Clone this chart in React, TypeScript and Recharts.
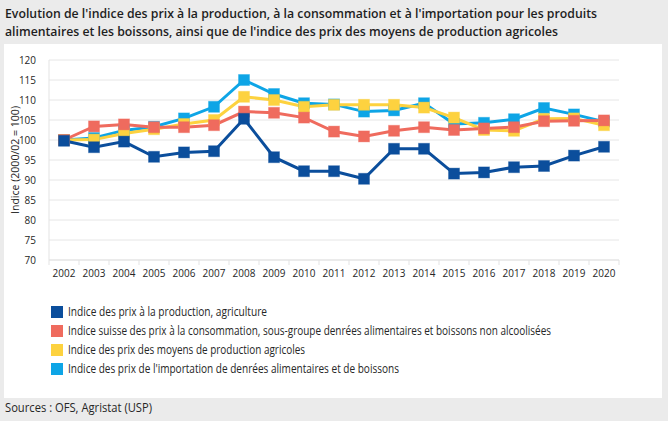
import React from "react";
import { LineChart, Line, XAxis, YAxis, CartesianGrid } from "recharts";

const years = ["2002","2003","2004","2005","2006","2007","2008","2009","2010","2011","2012","2013","2014","2015","2016","2017","2018","2019","2020"];
const production = [99.8,98.2,99.6,95.8,96.9,97.2,105.3,95.7,92.2,92.2,90.3,97.8,97.8,91.6,91.9,93.2,93.5,96.1,98.3];
const consommation = [100,103.4,103.9,103.2,103.2,103.7,107.1,106.8,105.6,102.1,100.9,102.3,103.2,102.5,102.9,103.2,104.7,104.8,104.9];
const moyens = [100,100.1,101.6,102.7,104.0,105.0,110.8,110.0,108.3,108.8,108.8,108.8,108.1,105.6,102.5,102.3,105.3,105.4,103.7];
const importation = [100,100.5,102.4,103.3,105.4,108.3,115.0,111.5,109.2,108.9,107.1,107.4,109.2,104.0,104.3,105.2,108.0,106.4,104.6];
const yTicks = [70,75,80,85,90,95,100,105,110,115,120];

const titleLines = [
  "Evolution de l'indice des prix à la production, à la consommation et à l'importation pour les produits",
  "alimentaires et les boissons, ainsi que de l'indice des prix des moyens de production agricoles",
];
const titleWidths = [592, 553];
const seriesNames = [
  "Indice des prix à la production, agriculture",
  "Indice suisse des prix à la consommation, sous-groupe denrées alimentaires et boissons non alcoolisées",
  "Indice des prix des moyens de production agricoles",
  "Indice des prix de l'importation de denrées alimentaires et de boissons",
];
const legendWidths = [199, 483, 237, 331];
const yAxisTitle = "Indice (2000/02 = 100)";
const sourceText = "Sources : OFS, Agristat (USP)";
const seriesKeys = ["production", "consommation", "moyens", "importation"];
const seriesColors = ["#0b4e9c", "#ef6b5e", "#fdd23f", "#0ea5e6"];

const data = years.map((y, i) => ({
  year: y,
  production: production[i],
  consommation: consommation[i],
  moyens: moyens[i],
  importation: importation[i],
}));

const FONT = "'Open Sans', 'Noto Sans', sans-serif";
const TEXT = "#262626";
const CHART_W = 668;
const MARGIN_L = 4;
const YAXIS_W = 45;
const MARGIN_R = 49;
const PLOT_W = CHART_W - MARGIN_L - YAXIS_W - MARGIN_R;
const BAND = PLOT_W / years.length;
const DIGIT_W = 5.7;

const SquareDot = (color: string) => (props: any) => {
  const { cx, cy, index } = props;
  if (cx == null || cy == null) return <g key={index} />;
  return (
    <rect key={index} x={cx - 5.5} y={cy - 5.5} width={11} height={11} fill={color} stroke={color} strokeOpacity={0.35} strokeWidth={1} />
  );
};

const XTick = (props: any) => {
  const { x, y, payload, index } = props;
  const last = index === years.length - 1;
  const s = String(payload.value);
  return (
    <g>
      <line x1={x - BAND / 2} x2={x - BAND / 2} y1={y - 8} y2={y - 3} stroke="#e3e3e3" />
      {last && <line x1={x + BAND / 2} x2={x + BAND / 2} y1={y - 8} y2={y - 3} stroke="#e3e3e3" />}
      <text x={x} y={y + 9} textAnchor="middle" fontSize={11.5} fill={TEXT} fontFamily={FONT} textLength={s.length * DIGIT_W} lengthAdjust="spacingAndGlyphs">{s}</text>
    </g>
  );
};

const YTick = (props: any) => {
  const { x, y, payload } = props;
  const s = String(payload.value);
  return (
    <text x={x - 2} y={y + 4} textAnchor="end" fontSize={11.5} fill={TEXT} fontFamily={FONT} textLength={s.length * DIGIT_W} lengthAdjust="spacingAndGlyphs">{s}</text>
  );
};

const YLabel = (props: any) => {
  const vb = props.viewBox || { x: 0, y: 0, width: 0, height: 0 };
  const cx = vb.x + 10;
  const cy = vb.y + vb.height / 2;
  return (
    <text x={cx} y={cy} transform={`rotate(-90 ${cx} ${cy})`} textAnchor="middle" dominantBaseline="central" fontSize={11.5} fill={TEXT} fontFamily={FONT} textLength={108} lengthAdjust="spacingAndGlyphs">{yAxisTitle}</text>
  );
};

export default function App() {
  const drawOrder = [3, 2, 1, 0];
  return (
    <div style={{ position: "absolute", left: 0, top: 0, width: 668, height: 421, background: "#ebebeb", overflow: "hidden" }}>
      <div style={{ position: "absolute", left: 4, top: 44, width: 658, height: 354, background: "#ffffff" }} />
      <div style={{ position: "absolute", left: 0, top: 44 }}>
        <LineChart width={CHART_W} height={240} data={data} margin={{ top: 16, right: MARGIN_R, left: MARGIN_L, bottom: 0 }}>
          <CartesianGrid vertical={false} stroke="#e6e6e6" />
          <XAxis dataKey="year" height={24} tick={<XTick />} tickLine={false} axisLine={{ stroke: "#e3e3e3" }} interval={0} padding={{ left: BAND / 2, right: BAND / 2 }} />
          <YAxis
            width={YAXIS_W}
            domain={[70, 120]}
            ticks={yTicks}
            tickLine={false}
            axisLine={{ stroke: "#e3e3e3" }}
            tick={<YTick />}
            tickMargin={5}
            label={<YLabel />}
            interval={0}
          />
          <YAxis yAxisId="right" orientation="right" width={0} domain={[70, 120]} tick={false} tickLine={false} axisLine={{ stroke: "#e3e3e3" }} />
          {drawOrder.map((i) => (
            <Line
              key={seriesKeys[i]}
              type="linear"
              dataKey={seriesKeys[i]}
              name={seriesNames[i]}
              stroke={seriesColors[i]}
              strokeWidth={3}
              dot={SquareDot(seriesColors[i])}
              activeDot={false}
              isAnimationActive={false}
            />
          ))}
        </LineChart>
      </div>
      <svg width={668} height={421} style={{ position: "absolute", left: 0, top: 0, pointerEvents: "none" }}>
        {titleLines.map((t, i) => (
          <text key={t} x={5} y={18 + i * 18} fontSize={13} fontWeight={600} fill="#1e1e1e" fontFamily={FONT} textLength={titleWidths[i]} lengthAdjust="spacingAndGlyphs">{t}</text>
        ))}
        {seriesNames.map((n, i) => (
          <g key={n}>
            <rect x={51} y={306 + i * 19} width={12} height={12} fill={seriesColors[i]} />
            <text x={68} y={316 + i * 19} fontSize={12} fill={TEXT} fontFamily={FONT} textLength={legendWidths[i]} lengthAdjust="spacingAndGlyphs">{n}</text>
          </g>
        ))}
        <text x={5} y={412} fontSize={12} fill={TEXT} fontFamily={FONT} textLength={147} lengthAdjust="spacingAndGlyphs">{sourceText}</text>
      </svg>
    </div>
  );
}
